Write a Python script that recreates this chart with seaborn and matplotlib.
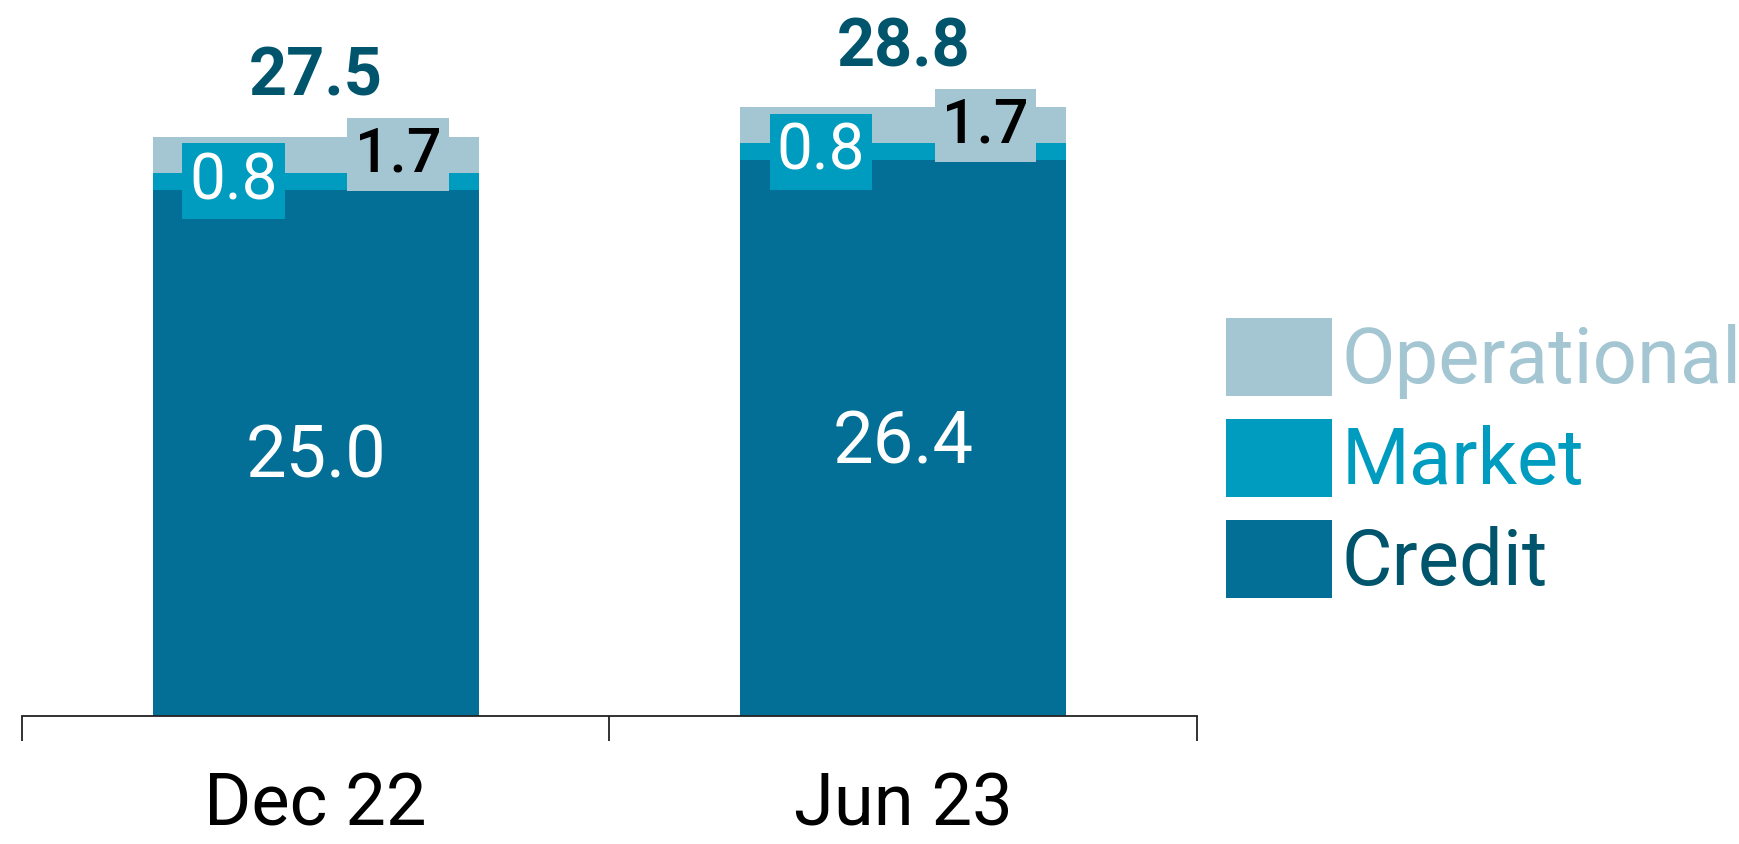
import numpy as np
import pandas as pd
import matplotlib
matplotlib.use("Agg")
import matplotlib.pyplot as plt
import seaborn as sns
from matplotlib.patches import Patch

# ---- data ----
categories = ["Dec 22", "Jun 23"]
credit = [25.0, 26.4]
market = [0.8, 0.8]
operational = [1.7, 1.7]
totals = [27.5, 28.8]
series_names = ["Operational", "Market", "Credit"]

# ---- colours ----
c_oper = "#a4c6d2"
c_market = "#009cbf"
c_credit = "#046f96"
c_dark = "#00546b"

sns.set_theme(style="white")
plt.rcParams["font.family"] = ["Roboto", "DejaVu Sans"]

DPI = 100
fig = plt.figure(figsize=(17.4, 8.44), dpi=DPI)
ax = fig.add_axes([22 / 1740, 128 / 844, (1197 - 22) / 1740, 716 / 844])

cum_cm = np.array(credit) + np.array(market)
cum_all = cum_cm + np.array(operational)

df = pd.DataFrame({"cat": categories, "credit": credit,
                   "cm": cum_cm, "all": cum_all})
bw = 0.555
sns.barplot(data=df, x="cat", y="all", color=c_oper, width=bw, saturation=1,
            errorbar=None, linewidth=0, ax=ax)
sns.barplot(data=df, x="cat", y="cm", color=c_market, width=bw, saturation=1,
            errorbar=None, linewidth=0, ax=ax)
sns.barplot(data=df, x="cat", y="credit", color=c_credit, width=bw, saturation=1,
            errorbar=None, linewidth=0, ax=ax)

ax.set_xlim(-0.5, 1.5)
ax.set_ylim(0, 34)
ax.set_xlabel("")
ax.set_ylabel("")
ax.set_yticks([])
for s in ["left", "right", "top"]:
    ax.spines[s].set_visible(False)
ax.spines["bottom"].set_color("#222222")
ax.spines["bottom"].set_linewidth(1.3)

ax.set_xticks([0, 1])
ax.set_xticklabels(categories, fontsize=52, color="black")
ax.set_xticks([-0.5, 0.5, 1.5], minor=True)
ax.tick_params(axis="x", which="major", length=0, pad=40)
ax.tick_params(axis="x", which="minor", length=18, width=1.3,
               color="#222222", direction="out", bottom=True)

# labels
for i in range(len(categories)):
    # credit value inside
    ax.annotate(f"{credit[i]:.1f}", xy=(i, credit[i] / 2), xytext=(0, -18),
                textcoords="offset points", ha="center", va="baseline",
                fontsize=52, color="white")
    # market label box
    ax.text(i - 0.14, credit[i] + market[i] / 2, f"{market[i]:.1f}",
            ha="center", va="center", fontsize=46, color="white",
            bbox=dict(boxstyle="square,pad=0.11", fc=c_market, ec="none"))
    # operational label box
    ax.text(i + 0.14, cum_cm[i] + operational[i] / 2, f"{operational[i]:.1f}",
            ha="center", va="center", fontsize=44, color="black",
            fontweight="medium",
            bbox=dict(boxstyle="square,pad=0.12", fc=c_oper, ec="none"))
    # total
    ax.annotate(f"{totals[i]:.1f}", xy=(i, cum_all[i]), xytext=(0, 29.5),
                textcoords="offset points", ha="center", va="baseline",
                fontsize=48, fontweight="bold", color=c_dark)

# legend
handles = [Patch(facecolor=c_oper, edgecolor="none"),
           Patch(facecolor=c_market, edgecolor="none"),
           Patch(facecolor=c_credit, edgecolor="none")]
fs = 56
fpx = fs * DPI / 72
leg = fig.legend(handles, series_names, loc="upper left",
                 bbox_to_anchor=(1226 / 1740, 1 - 318 / 844),
                 frameon=False, fontsize=fs, borderpad=0, borderaxespad=0,
                 handlelength=106 / fpx, handleheight=1.17,
                 handletextpad=0.12, labelspacing=0.25)
for t, col in zip(leg.get_texts(), [c_oper, c_market, c_dark]):
    t.set_color(col)

fig.savefig("out.png", dpi=DPI)
